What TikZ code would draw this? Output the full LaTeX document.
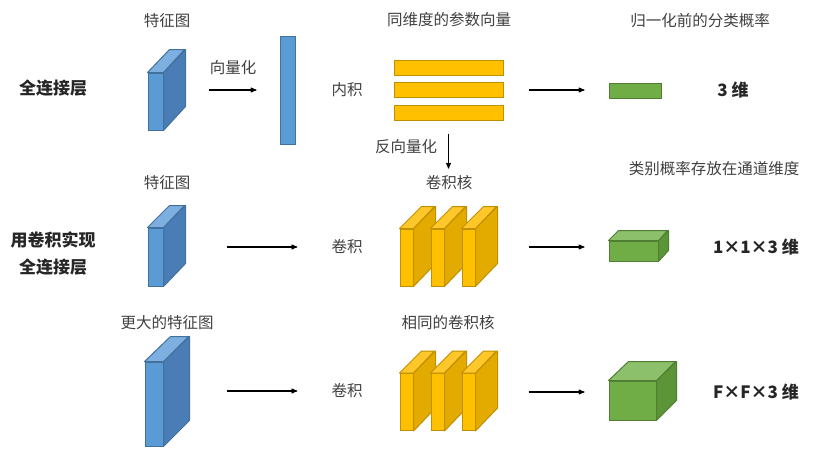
\documentclass[tikz,border=0pt]{standalone}
\usepackage{fontspec}
\setmainfont{Noto Sans CJK SC}
\usetikzlibrary{arrows}

\definecolor{mapfront}{HTML}{5B9BD5}
\definecolor{mapside}{HTML}{4A7DB5}
\definecolor{maptop}{HTML}{7DAFE0}
\definecolor{mapedge}{HTML}{41719C}
\definecolor{kernfront}{HTML}{FFC000}
\definecolor{kernside}{HTML}{E3AA00}
\definecolor{kerntop}{HTML}{FFC72A}
\definecolor{kernedge}{HTML}{C09000}
\definecolor{probfront}{HTML}{70AD47}
\definecolor{probside}{HTML}{5C9438}
\definecolor{probtop}{HTML}{8DC06A}
\definecolor{probedge}{HTML}{507E32}
\definecolor{labelgray}{HTML}{404040}
\definecolor{titleblack}{HTML}{262626}

\begin{document}
\begin{tikzpicture} [x=1pt,y=-1pt,
    plain label/.style={font=\fontsize{15.5}{18}\selectfont,text=labelgray,inner sep=0pt},
    bold label/.style={font=\fontsize{17}{27}\selectfont\bfseries,text=titleblack,
      align=center,inner sep=0pt},
    map front/.style={fill=mapfront,draw=mapedge,line width=1pt,inner sep=0pt},
    map face/.style={draw=mapedge,line width=1pt,line join=round},
    kern front/.style={fill=kernfront,draw=kernedge,line width=1pt,inner sep=0pt,
      minimum width=13pt,minimum height=57pt},
    kern face/.style={draw=kernedge,line width=1pt,line join=round},
    prob front/.style={fill=probfront,draw=probedge,line width=1pt,inner sep=0pt},
    prob face/.style={draw=probedge,line width=1pt,line join=round},
    connector/.style={->,>=stealth',line width=1.1pt}]

  \useasboundingbox (0,0) rectangle (840,451);

  % row titles and labels
  \node [bold label] (title1) at (53,88) {全连接层};
  \node [bold label] (title2) at (53,254) {用卷积实现\\全连接层};
  \node [plain label] (maplbl1) at (167,21) {特征图};
  \node [plain label] (maplbl2) at (167,183) {特征图};
  \node [plain label] (maplbl3) at (167,323) {更大的特征图};
  \node [plain label] (veclbl) at (233,68) {向量化};
  \node [plain label] (inner) at (347,90) {内积};
  \node [plain label] (conv2) at (347,247) {卷积};
  \node [plain label] (conv3) at (347,391) {卷积};
  \node [plain label] (barlbl) at (449,20) {同维度的参数向量};
  \node [plain label] (unveclbl) at (406,147) {反向量化};
  \node [plain label] (kernlbl2) at (449,183) {卷积核};
  \node [plain label] (kernlbl3) at (448,323) {相同的卷积核};
  \node [plain label] (problbl1) at (700,21) {归一化前的分类概率};
  \node [plain label] (problbl2) at (714,169) {类别概率存放在通道维度};
  \node [bold label] (dim1) at (733,90) {3 维};
  \node [bold label] (dim2) at (756,247) {1×1×3 维};
  \node [bold label] (dim3) at (756,392) {F×F×3 维};

  % feature maps
  \node [map front,minimum width=15pt,minimum height=57pt] (fmap1) at (155.5,101.5) {};
  \fill [mapside,map face] (fmap1.north east) -- ++(22,-23) -- ++(0,57) -- (fmap1.south east) -- cycle;
  \fill [maptop,map face] (fmap1.north west) -- ++(22,-23) -- ++(15,0) -- (fmap1.north east) -- cycle;

  \node [map front,minimum width=15pt,minimum height=58pt] (fmap2) at (155.5,257) {};
  \fill [mapside,map face] (fmap2.north east) -- ++(22,-22) -- ++(0,58) -- (fmap2.south east) -- cycle;
  \fill [maptop,map face] (fmap2.north west) -- ++(22,-22) -- ++(15,0) -- (fmap2.north east) -- cycle;

  \node [map front,minimum width=18pt,minimum height=84pt] (fmap3) at (154,404) {};
  \fill [mapside,map face] (fmap3.north east) -- ++(26,-25) -- ++(0,84) -- (fmap3.south east) -- cycle;
  \fill [maptop,map face] (fmap3.north west) -- ++(26,-25) -- ++(18,0) -- (fmap3.north east) -- cycle;

  \node [map front,minimum width=15pt,minimum height=108pt] (vec) at (287.5,90) {};

  % parameter vectors
  \node [kern front,minimum width=109pt,minimum height=15pt] (bar1) at (448.5,68) {};
  \node [kern front,minimum width=109pt,minimum height=15pt] (bar2) at (448.5,90) {};
  \node [kern front,minimum width=109pt,minimum height=15pt] (bar3) at (448.5,112.5) {};

  % convolution kernels
  \foreach \i/\x in {1/406.5,2/437.5,3/468.5} {
    \node [kern front] (kern2\i) at (\x,257.5) {};
    \fill [kernside,kern face] (kern2\i.north east) -- ++(22,-22) -- ++(0,57) -- (kern2\i.south east) -- cycle;
    \fill [kerntop,kern face] (kern2\i.north west) -- ++(22,-22) -- ++(13,0) -- (kern2\i.north east) -- cycle;
    \node [kern front] (kern3\i) at (\x,402) {};
    \fill [kernside,kern face] (kern3\i.north east) -- ++(22,-22) -- ++(0,57) -- (kern3\i.south east) -- cycle;
    \fill [kerntop,kern face] (kern3\i.north west) -- ++(22,-22) -- ++(13,0) -- (kern3\i.north east) -- cycle;
  }

  % class scores
  \node [prob front,minimum width=52pt,minimum height=15pt] (prob1) at (635,90.5) {};

  \node [prob front,minimum width=49pt,minimum height=20pt] (prob2) at (633.5,251) {};
  \fill [probside,prob face] (prob2.north east) -- ++(10,-10) -- ++(0,20) -- (prob2.south east) -- cycle;
  \fill [probtop,prob face] (prob2.north west) -- ++(10,-10) -- ++(49,0) -- (prob2.north east) -- cycle;

  \node [prob front,minimum width=47pt,minimum height=39pt] (prob3) at (632.5,400.5) {};
  \fill [probside,prob face] (prob3.north east) -- ++(20,-19) -- ++(0,39) -- (prob3.south east) -- cycle;
  \fill [probtop,prob face] (prob3.north west) -- ++(20,-19) -- ++(47,0) -- (prob3.north east) -- cycle;

  % connectors
  \draw [connector,shorten <=45pt,shorten >=23pt] (fmap1.east |- vec.west) -- (vec.west);
  \draw [connector,shorten <=25pt,shorten >=24pt] (bar2.east) -- (prob1.west |- bar2.east);
  \draw [connector,shorten <=13pt,shorten >=7pt] (bar3.south) -- (bar3.south |- kernlbl2.north);
  \draw [connector,shorten <=63pt,shorten >=34pt] (fmap2.east |- conv2.west) -- (conv2.west);
  \draw [connector,shorten <=53pt,shorten >=24pt] (kern23.east |- dim2.west) -- (prob2.west |- dim2.west);
  \draw [connector,shorten <=63pt,shorten >=34pt] (fmap3.east |- conv3.west) -- (conv3.west);
  \draw [connector,shorten <=53pt,shorten >=24pt] (kern33.east |- dim3.west) -- (prob3.west |- dim3.west);

\end{tikzpicture}
\end{document}
